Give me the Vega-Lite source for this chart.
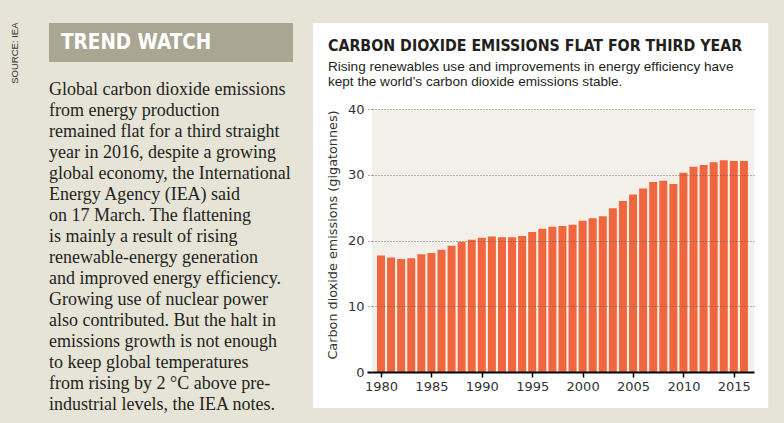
{
  "$schema": "https://vega.github.io/schema/vega-lite/v6.json",
  "background": "#e6e4d6",
  "padding": {"left": 9, "top": 22, "right": 16, "bottom": 16},
  "title": {
    "text": "SOURCE: IEA",
    "orient": "left",
    "anchor": "end",
    "font": "Liberation Sans",
    "fontSize": 9.5,
    "fontWeight": "normal",
    "color": "#333333",
    "offset": 30
  },
  "spacing": 19,
  "hconcat": [
    {
      "width": 244,
      "height": 39,
      "view": {"fill": "#a9a694", "stroke": null},
      "data": {"values": [{"label": "TREND WATCH"}]},
      "mark": {
        "type": "text",
        "align": "left",
        "baseline": "middle",
        "font": "'DejaVu Sans Condensed', Roboto",
        "fontSize": 20.5,
        "fontWeight": "bold",
        "color": "#ffffff"
      },
      "encoding": {"text": {"field": "label"}, "x": {"value": 12}},
      "title": {
        "text": [
          "Global carbon dioxide emissions",
          "from energy production",
          "remained flat for a third straight",
          "year in 2016, despite a growing",
          "global economy, the International",
          "Energy Agency (IEA) said",
          "on 17 March. The flattening",
          "is mainly a result of rising",
          "renewable-energy generation",
          "and improved energy efficiency.",
          "Growing use of nuclear power",
          "also contributed. But the halt in",
          "emissions growth is not enough",
          "to keep global temperatures",
          "from rising by 2 °C above pre-",
          "industrial levels, the IEA notes."
        ],
        "orient": "bottom",
        "anchor": "start",
        "frame": "group",
        "offset": 19,
        "baseline": "top",
        "font": "Liberation Serif",
        "fontSize": 18,
        "fontWeight": "normal",
        "lineHeight": 21,
        "color": "#231f20"
      }
    },
    {
      "width": 382,
      "height": 349,
      "title": {
        "text": "CARBON DIOXIDE EMISSIONS FLAT FOR THIRD YEAR",
        "subtitle": [
          "Rising renewables use and improvements in energy efficiency have",
          "kept the world’s carbon dioxide emissions stable."
        ],
        "anchor": "start",
        "frame": "bounds",
        "dx": 15,
        "font": "'DejaVu Sans Condensed', Roboto",
        "fontSize": 15.8,
        "fontWeight": "bold",
        "color": "#231f20",
        "subtitleFont": "Liberation Sans",
        "subtitleFontSize": 13.6,
        "subtitleColor": "#231f20",
        "subtitleLineHeight": 15,
        "subtitlePadding": 6,
        "offset": -67
      },
      "layer": [
        {
          "data": {"values": [{}]},
          "mark": {"type": "rect", "color": "#ffffff", "clip": false},
          "encoding": {
            "x": {"datum": 1973.25, "type": "quantitative"},
            "x2": {"datum": 2018.41},
            "y": {"datum": 53.08, "type": "quantitative"},
            "y2": {"datum": -5.48}
          }
        },
        {
          "data": {"values": [{}]},
          "mark": {"type": "rect", "color": "#f2f0e8"},
          "encoding": {
            "y": {"datum": 40, "type": "quantitative"},
            "y2": {"datum": 0}
          }
        },
        {
          "data": {
            "values": [
              {"year": 1980, "emissions": 17.7},
              {"year": 1981, "emissions": 17.4},
              {"year": 1982, "emissions": 17.2},
              {"year": 1983, "emissions": 17.3},
              {"year": 1984, "emissions": 17.9},
              {"year": 1985, "emissions": 18.1},
              {"year": 1986, "emissions": 18.6},
              {"year": 1987, "emissions": 19.2},
              {"year": 1988, "emissions": 19.8},
              {"year": 1989, "emissions": 20.1},
              {"year": 1990, "emissions": 20.4},
              {"year": 1991, "emissions": 20.6},
              {"year": 1992, "emissions": 20.5},
              {"year": 1993, "emissions": 20.5},
              {"year": 1994, "emissions": 20.7},
              {"year": 1995, "emissions": 21.3},
              {"year": 1996, "emissions": 21.8},
              {"year": 1997, "emissions": 22.1},
              {"year": 1998, "emissions": 22.2},
              {"year": 1999, "emissions": 22.4},
              {"year": 2000, "emissions": 23.0},
              {"year": 2001, "emissions": 23.4},
              {"year": 2002, "emissions": 23.7},
              {"year": 2003, "emissions": 24.9},
              {"year": 2004, "emissions": 26.0},
              {"year": 2005, "emissions": 27.0},
              {"year": 2006, "emissions": 27.9},
              {"year": 2007, "emissions": 28.9},
              {"year": 2008, "emissions": 29.1},
              {"year": 2009, "emissions": 28.6},
              {"year": 2010, "emissions": 30.3},
              {"year": 2011, "emissions": 31.2},
              {"year": 2012, "emissions": 31.5},
              {"year": 2013, "emissions": 31.9},
              {"year": 2014, "emissions": 32.2},
              {"year": 2015, "emissions": 32.1},
              {"year": 2016, "emissions": 32.1}
            ]
          },
          "mark": {"type": "bar", "size": 8, "color": "#f0673f"},
          "encoding": {
            "x": {
              "field": "year",
              "type": "quantitative",
              "scale": {"domain": [1979.107, 2017.0], "nice": false, "zero": false, "padding": 0},
              "axis": {
                "values": [1980, 1985, 1990, 1995, 2000, 2005, 2010, 2015],
                "format": "d",
                "title": null,
                "grid": false,
                "domainColor": "#000000",
                "domainWidth": 2,
                "tickColor": "#000000",
                "tickWidth": 1.5,
                "tickSize": 5,
                "labelFont": "DejaVu Sans",
                "labelFontSize": 13,
                "labelColor": "#333333",
                "labelPadding": 3,
                "zindex": 2
              }
            },
            "y": {
              "field": "emissions",
              "type": "quantitative",
              "scale": {"domain": [0, 53.08], "nice": false, "padding": 0},
              "axis": {
                "values": [0, 10, 20, 30, 40],
                "title": "Carbon dioxide emissions (gigatonnes)",
                "titleFont": "DejaVu Sans",
                "titleFontSize": 12.8,
                "titleFontWeight": "normal",
                "titleColor": "#333333",
                "titlePadding": 8,
                "titleY": 211.5,
                "domain": false,
                "grid": true,
                "gridColor": "#555555",
                "gridDash": [1, 2],
                "gridOpacity": {"condition": {"test": "datum.value === 0", "value": 0}, "value": 0.8},
                "tickSize": 5,
                "tickColor": {"condition": {"test": "datum.value === 0", "value": "#000000"}, "value": "#555555"},
                "tickDash": {"condition": {"test": "datum.value === 0", "value": []}, "value": [1, 2]},
                "tickWidth": {"condition": {"test": "datum.value === 0", "value": 2}, "value": 1},
                "labelFont": "DejaVu Sans",
                "labelFontSize": 13,
                "labelColor": "#333333",
                "labelPadding": 3,
                "zindex": 2
              }
            }
          }
        }
      ]
    }
  ]
}
